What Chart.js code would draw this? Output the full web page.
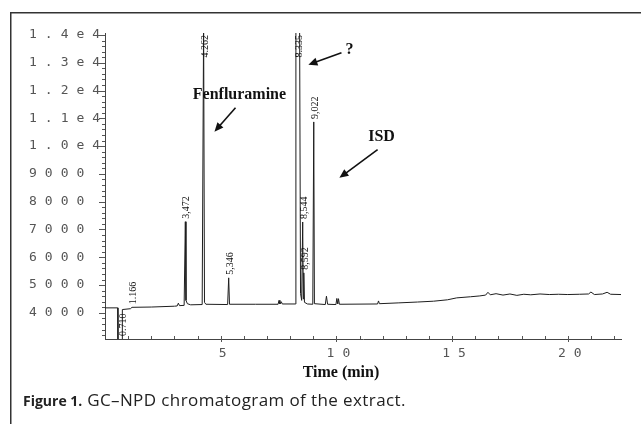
<!DOCTYPE html>
<html>
<head>
<meta charset="utf-8">
<script src="https://cdn.jsdelivr.net/npm/chart.js@4.4.1/dist/chart.umd.min.js"></script>
<style>
  html, body { margin: 0; padding: 0; background: #ffffff; }
  #wrap { position: relative; width: 641px; height: 424px; }
  canvas { display: block; }
</style>
</head>
<body>
<div id="wrap"><canvas id="c" width="641" height="424"></canvas></div>
<script>
// ---- Data ----
const times = [
  0, 0.55, 0.56, 0.710, 0.74, 0.75, 1.10, 1.166, 2.0, 3.0, 3.12, 3.17, 3.22, 3.42,
  3.472, 3.50, 3.56, 3.7, 4.20, 4.262, 4.30, 4.36, 5.30, 5.346, 5.38, 6.5,
  7.48, 7.52, 7.56, 7.62, 7.66, 8.24, 8.25, 8.335, 8.41, 8.45, 8.50, 8.544, 8.57,
  8.592, 8.62, 8.75, 8.98, 9.022, 9.05, 9.52, 9.57, 9.62, 9.98, 10.02, 10.06,
  10.09, 10.13, 11.78, 11.82, 11.86, 12.7, 13.5, 14.2, 14.8, 15.2, 15.8, 16.2,
  16.45, 16.55, 16.65, 16.9, 17.2, 17.5, 17.8, 18.1, 18.4, 18.8, 19.2, 19.6,
  20.0, 20.5, 20.9, 21.0, 21.15, 21.5, 21.7, 21.85, 22.3
];
const signal = [
  4180, 4180, 2900, 2900, 2900, 4120, 4150, 4200, 4210, 4240, 4250, 4350, 4260, 4270,
  7280, 4450, 4330, 4290, 4300, 14500, 4380, 4310, 4300, 5260, 4310, 4310,
  4310, 4450, 4320, 4400, 4320, 4320, 14500, 14500, 14500, 4700, 4450, 7270, 4500,
  5440, 4380, 4320, 4310, 10870, 4330, 4300, 4600, 4310, 4300, 4520, 4320,
  4510, 4310, 4320, 4430, 4330, 4360, 4390, 4420, 4470, 4540, 4580, 4610,
  4640, 4740, 4650, 4690, 4640, 4680, 4630, 4670, 4650, 4680, 4660, 4670,
  4660, 4670, 4680, 4750, 4660, 4680, 4740, 4670, 4660
];
const peakTimes  = [0.710, 1.166, 3.472, 4.262, 5.346, 8.335, 8.544, 8.592, 9.022];
const peakLabels = ['0.710', '1.166', '3,472', '4.262', '5,346', '8.335', '8,544', '8,592', '9,022'];
const yMajorValues = [4000, 5000, 6000, 7000, 8000, 9000, 10000, 11000, 12000, 13000, 14000];
const yMajorLabels = ['4000', '5000', '6000', '7000', '8000', '9000', '1.0e4', '1.1e4', '1.2e4', '1.3e4', '1.4e4'];
const xMajorValues = [5, 10, 15, 20];
const xMajorLabels = ['5', '10', '15', '20'];
const annotations = ['Fenfluramine', '?', 'ISD'];
const axisTitle = 'Time (min)';
const captionBold = 'Figure 1.';
const captionText = ' GC\u2013NPD chromatogram of the extract.';

const points = times.map((t, i) => ({ x: t, y: signal[i] }));

// annotation placement (in data units) and arrows
const annotPlace = [
  { at: [5.81, 11850], from: [5.64, 11380], to: [4.73, 10520] },
  { at: [10.57, 13470], from: [10.22, 13360], to: [8.79, 12930] },
  { at: [11.95, 10340], from: [11.78, 9870], to: [10.13, 8860] }
];

function drawArrow(ctx, x1, y1, x2, y2) {
  const ang = Math.atan2(y2 - y1, x2 - x1);
  const hl = 9, hw = 4;
  ctx.beginPath();
  ctx.moveTo(x1, y1);
  ctx.lineTo(x2 - Math.cos(ang) * hl * 0.8, y2 - Math.sin(ang) * hl * 0.8);
  ctx.stroke();
  ctx.beginPath();
  ctx.moveTo(x2, y2);
  ctx.lineTo(x2 - Math.cos(ang) * hl - Math.sin(ang) * hw, y2 - Math.sin(ang) * hl + Math.cos(ang) * hw);
  ctx.lineTo(x2 - Math.cos(ang) * hl + Math.sin(ang) * hw, y2 - Math.sin(ang) * hl - Math.cos(ang) * hw);
  ctx.closePath();
  ctx.fill();
}

const decorPlugin = {
  id: 'decor',
  beforeDraw(chart) {
    chart.ctx.letterSpacing = '8px';
  },
  beforeDatasetsDraw(chart) {
    chart.ctx.letterSpacing = '0px';
  },
  afterDraw(chart) {
    const ctx = chart.ctx;
    const xs = chart.scales.x, ys = chart.scales.y;
    const area = chart.chartArea;
    ctx.save();
    ctx.letterSpacing = '0px';

    // tick marks on y axis
    ctx.strokeStyle = '#555';
    ctx.lineWidth = 1;
    ys.ticks.forEach(t => {
      const py = Math.round(ys.getPixelForValue(t.value)) + 0.5;
      const major = yMajorValues.includes(t.value);
      ctx.beginPath();
      ctx.moveTo(area.left, py);
      ctx.lineTo(area.left - (major ? 6 : 3), py);
      ctx.stroke();
    });
    // tick marks on x axis
    xs.ticks.forEach(t => {
      const px = Math.round(xs.getPixelForValue(t.value)) + 0.5;
      const major = xMajorValues.includes(t.value);
      ctx.beginPath();
      ctx.moveTo(px, area.bottom - 3);
      ctx.lineTo(px, area.bottom + (major ? 3 : 0));
      ctx.stroke();
    });

    // peak retention-time labels (rotated)
    ctx.fillStyle = '#111';
    ctx.font = '10px "Liberation Serif", "Times New Roman", serif';
    peakLabels.forEach((lab, i) => {
      const t = peakTimes[i];
      const idx = times.indexOf(t);
      const v = signal[idx];
      const px = xs.getPixelForValue(t) + 1.5;
      const w = ctx.measureText(lab).width;
      let bottom = Math.min(ys.getPixelForValue(v), area.bottom) - 3;
      if (bottom - w < area.top + 2) bottom = area.top + 2 + w;
      ctx.save();
      ctx.translate(px, bottom);
      ctx.rotate(-Math.PI / 2);
      ctx.textAlign = 'left';
      ctx.textBaseline = 'middle';
      ctx.fillText(lab, 0, 0);
      ctx.restore();
    });

    // annotations with arrows
    ctx.fillStyle = '#111';
    ctx.strokeStyle = '#111';
    ctx.lineWidth = 1.6;
    ctx.font = 'bold 16px "Liberation Serif", "Times New Roman", serif';
    ctx.textAlign = 'center';
    ctx.textBaseline = 'middle';
    annotations.forEach((txt, i) => {
      const a = annotPlace[i];
      ctx.fillText(txt, xs.getPixelForValue(a.at[0]), ys.getPixelForValue(a.at[1]));
      drawArrow(ctx,
        xs.getPixelForValue(a.from[0]), ys.getPixelForValue(a.from[1]),
        xs.getPixelForValue(a.to[0]), ys.getPixelForValue(a.to[1]));
    });

    // axis title
    ctx.font = 'bold 16px "Liberation Serif", "Times New Roman", serif';
    ctx.fillText(axisTitle, 341, 373);

    // caption
    ctx.textAlign = 'left';
    ctx.textBaseline = 'alphabetic';
    ctx.fillStyle = '#222';
    ctx.font = 'bold 14px "Open Sans", sans-serif';
    ctx.fillText(captionBold, 23, 406);
    const bw = ctx.measureText(captionBold).width;
    ctx.font = '17px "Open Sans", sans-serif';
    ctx.letterSpacing = '0.4px';
    ctx.fillText(captionText, 23 + bw, 406);
    ctx.letterSpacing = '0px';

    // frame
    ctx.strokeStyle = '#333';
    ctx.lineWidth = 1.5;
    ctx.beginPath();
    ctx.moveTo(10.75, 424);
    ctx.lineTo(10.75, 12.75);
    ctx.lineTo(641, 12.75);
    ctx.stroke();
    ctx.restore();
  }
};

new Chart(document.getElementById('c'), {
  type: 'line',
  data: {
    datasets: [{
      data: points,
      borderColor: '#1e1e1e',
      borderWidth: 1,
      pointRadius: 0,
      tension: 0,
      fill: false
    }]
  },
  options: {
    responsive: false,
    animation: false,
    devicePixelRatio: 1,
    events: [],
    layout: { padding: { left: 29, top: 33, right: 20, bottom: 55 } },
    plugins: { legend: { display: false }, tooltip: { enabled: false }, title: { display: false } },
    scales: {
      x: {
        type: 'linear',
        min: 0,
        max: 22.3,
        afterBuildTicks(scale) {
          const arr = [];
          for (let v = 1; v <= 22; v++) arr.push({ value: v });
          scale.ticks = arr;
        },
        afterFit(scale) { scale.height = 30; },
        grid: { display: false, drawTicks: false },
        border: { display: true, color: '#444', width: 1 },
        ticks: {
          autoSkip: false,
          maxRotation: 0,
          padding: 7,
          labelOffset: 6,
          color: '#555',
          font: { family: '"DejaVu Sans Mono", monospace', size: 13 },
          callback(value) {
            const k = xMajorValues.indexOf(value);
            return k >= 0 ? xMajorLabels[k] : '';
          }
        }
      },
      y: {
        type: 'linear',
        min: 3060,
        max: 14070,
        afterBuildTicks(scale) {
          const arr = [];
          for (let v = 3200; v <= 14000; v += 200) arr.push({ value: v });
          scale.ticks = arr;
        },
        afterFit(scale) { scale.width = 76; },
        grid: { display: false, drawTicks: false },
        border: { display: true, color: '#444', width: 1 },
        ticks: {
          autoSkip: false,
          crossAlign: 'far',
          padding: 0,
          color: '#555',
          font: { family: '"DejaVu Sans Mono", monospace', size: 13 },
          callback(value) {
            const k = yMajorValues.indexOf(value);
            return k >= 0 ? yMajorLabels[k] : '';
          }
        }
      }
    }
  },
  plugins: [decorPlugin]
});
</script>
</body>
</html>
